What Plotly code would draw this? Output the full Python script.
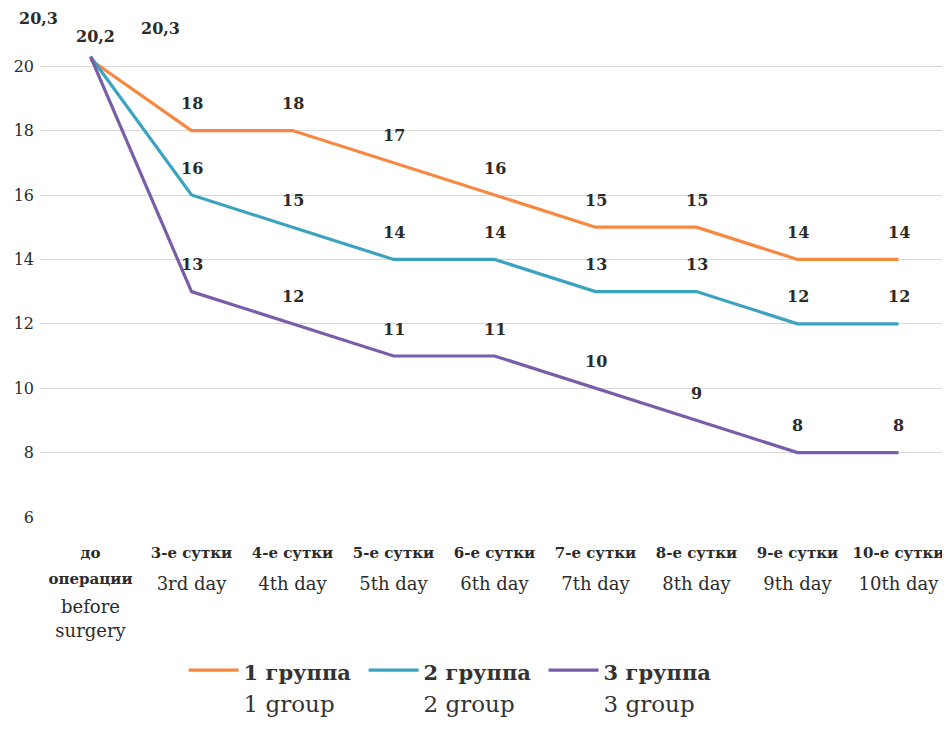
import plotly.graph_objects as go

cats_ru = ["до<br>операции", "3-е сутки", "4-е сутки", "5-е сутки", "6-е сутки",
           "7-е сутки", "8-е сутки", "9-е сутки", "10-е сутки"]
cats_en = ["&nbsp;<br>before<br>surgery", "3rd day", "4th day", "5th day", "6th day",
           "7th day", "8th day", "9th day", "10th day"]
group1 = [20.2, 18, 18, 17, 16, 15, 15, 14, 14]
group2 = [20.3, 16, 15, 14, 14, 13, 13, 12, 12]
group3 = [20.3, 13, 12, 11, 11, 10, 9, 8, 8]
names_ru = ["1 группа", "2 группа", "3 группа"]
names_en = ["1 group", "2 group", "3 group"]
colors = ["#F7883F", "#3BA3BF", "#7A5DA8"]
series = [group1, group2, group3]

xs = list(range(len(cats_ru)))
FONT = "DejaVu Serif"
TXT = "#2b2b2b"


def lines_span(text, size, bold=False):
    parts = []
    for ln in text.split("<br>"):
        inner = f"<b>{ln}</b>" if bold else ln
        parts.append(f"<span style='font-size:{size}px'>{inner}</span>")
    return "<br>".join(parts)


fig = go.Figure()
for vals, nr, ne, c in zip(series, names_ru, names_en, colors):
    fig.add_trace(go.Scatter(
        x=xs, y=vals, mode="lines",
        line=dict(color=c, width=3.2),
        name=lines_span(nr, 21, bold=True) + "<br>" + lines_span(ne, 23),
    ))

# invisible carrier trace so the English category axis is drawn
fig.add_trace(go.Scatter(x=xs, y=group1, xaxis="x2", mode="lines",
                         line=dict(width=0, color="rgba(0,0,0,0)"),
                         showlegend=False, hoverinfo="skip"))

first_shift = [(5, 23), (70, 28), (-52, 38)]
for si, vals in enumerate(series):
    for i, v in enumerate(vals):
        lbl = f"{v:g}".replace(".", ",")
        if i == 0:
            xsft, ysft = first_shift[si]
        else:
            xsft, ysft = 0, 27
        fig.add_annotation(x=i, y=v, text=f"<b>{lbl}</b>", showarrow=False,
                           xshift=xsft, yshift=ysft,
                           font=dict(family=FONT, size=16, color=TXT))

fig.update_layout(
    width=950, height=747,
    margin=dict(l=32, r=9, t=26, b=238),
    plot_bgcolor="white", paper_bgcolor="white",
    font=dict(family=FONT, color=TXT, size=16),
    showlegend=True,
    legend=dict(orientation="h", x=0.455, xanchor="center", y=-0.27, yanchor="top",
                font=dict(family=FONT, size=25, color="#333"),
                valign="top", itemwidth=50, tracegroupgap=0,
                entrywidth=115),
    xaxis=dict(tickmode="array", tickvals=xs,
               ticktext=[lines_span(r, 15, bold=True) for r in cats_ru],
               range=[-0.5, 8.5], showgrid=False, zeroline=False, showline=False,
               ticks="", ticklabelstandoff=20, automargin=False,
               tickfont=dict(family=FONT, size=20, color=TXT)),
    xaxis2=dict(tickmode="array", tickvals=xs, ticktext=cats_en,
                overlaying="x", side="bottom", anchor="y",
                range=[-0.5, 8.5], showgrid=False, zeroline=False, showline=False,
                ticks="", ticklabelstandoff=54, automargin=False,
                tickfont=dict(family=FONT, size=18, color=TXT)),
    yaxis=dict(range=[6, 21], tickvals=[6, 8, 10, 12, 14, 16, 18, 20],
               showgrid=True, gridcolor="#d9d9d9", gridwidth=1,
               zeroline=False, showline=False, ticks="",
               ticklabelstandoff=5, automargin=False,
               tickprefix="<b>", ticksuffix="</b>",
               tickfont=dict(family=FONT, size=16, color=TXT)),
)
fig.write_html("out.html")
